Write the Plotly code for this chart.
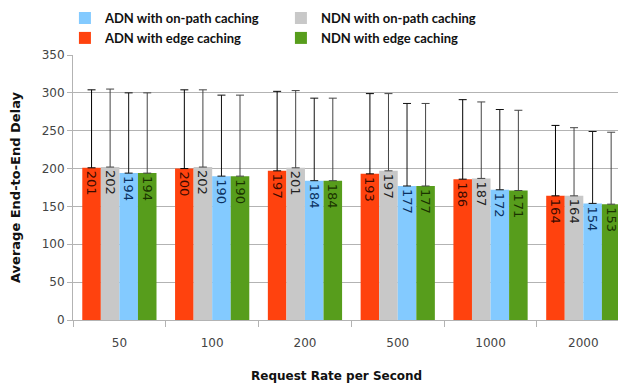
import plotly.graph_objects as go

categories = ["50", "100", "200", "500", "1000", "2000"]

series_names = ["ADN with edge caching", "NDN with on-path caching",
                "ADN with on-path caching", "NDN with edge caching"]
adn_edge = [201, 200, 197, 193, 186, 164]
ndn_onpath = [202, 202, 201, 197, 187, 164]
adn_onpath = [194, 190, 184, 177, 172, 154]
ndn_edge = [194, 190, 184, 177, 171, 153]

adn_edge_err = [103, 104, 105, 106, 105, 93]
ndn_onpath_err = [103, 102, 102, 102, 101, 90]
adn_onpath_err = [106, 107, 109, 109, 106, 95]
ndn_edge_err = [106, 107, 109, 109, 106, 95]

values = [adn_edge, ndn_onpath, adn_onpath, ndn_edge]
errors = [adn_edge_err, ndn_onpath_err, adn_onpath_err, ndn_edge_err]
colors = ["#ff420e", "#c8c8c8", "#83caff", "#579d1c"]
text_colors = ["#3a0a00", "#222222", "#0a3060", "#1a3300"]
err_colors = ["#000000", "#444444", "#111111", "#444444"]
ranks = [3, 2, 1, 4]

fig = go.Figure()
for name, v, e, c, tc, ec, r in zip(series_names, values, errors, colors, text_colors,
                                     err_colors, ranks):
    fig.add_trace(go.Bar(
        name=name, x=categories, y=v,
        marker=dict(color=c, line=dict(width=0)),
        error_y=dict(type="data", array=e, symmetric=False, arrayminus=[0]*len(e),
                     color=ec, thickness=1, width=4),
        text=[str(x) for x in v], textposition="inside", insidetextanchor="end",
        textangle=90, textfont=dict(family="DejaVu Sans", size=13, color=tc),
        cliponaxis=False,
        legendrank=r,
    ))

# page body has an 8px margin, so the figure is sized 8px smaller
fig.update_layout(
    width=618, height=378,
    margin=dict(l=65, r=0, t=47, b=66, autoexpand=False),
    paper_bgcolor="white", plot_bgcolor="white",
    barmode="group", bargap=0.2, bargroupgap=0,
    font=dict(family="DejaVu Sans", size=12, color="#444444"),
    showlegend=True,
    legend=dict(orientation="h", x=-0.0146, xanchor="left", y=1.196, yref="paper",
                yanchor="top", entrywidth=171, entrywidthmode="pixels",
                font=dict(family="Lato", size=13, color="#111111", weight="bold"),
                traceorder="normal", itemwidth=30, tracegroupgap=0),
    uniformtext=dict(mode="show", minsize=13),
    annotations=[dict(text="Request Rate per Second", xref="paper", yref="paper",
                      x=0.4756, y=-0.2113, xanchor="center", yanchor="middle",
                      showarrow=False,
                      font=dict(family="DejaVu Sans", size=12, color="#111111",
                                weight="bold"))],
)
fig.update_xaxes(
    type="category", range=[-0.5, 5.46], showline=True, linecolor="#b3b3b3", linewidth=1,
    ticks="outside", tickson="boundaries", ticklen=6, tickcolor="#b3b3b3",
    showgrid=False, automargin=False, ticklabelstandoff=12,
)
fig.update_yaxes(
    range=[0, 350], dtick=50, showline=True, linecolor="#b3b3b3", linewidth=1,
    ticks="outside", ticklen=5, tickcolor="#b3b3b3",
    showgrid=True, gridcolor="#b3b3b3", gridwidth=1, zeroline=False, automargin=False,
    title=dict(text="Average End-to-End Delay", standoff=18,
               font=dict(family="DejaVu Sans", size=13, color="#111111", weight="bold")),
)

fig.write_html("out.html")
